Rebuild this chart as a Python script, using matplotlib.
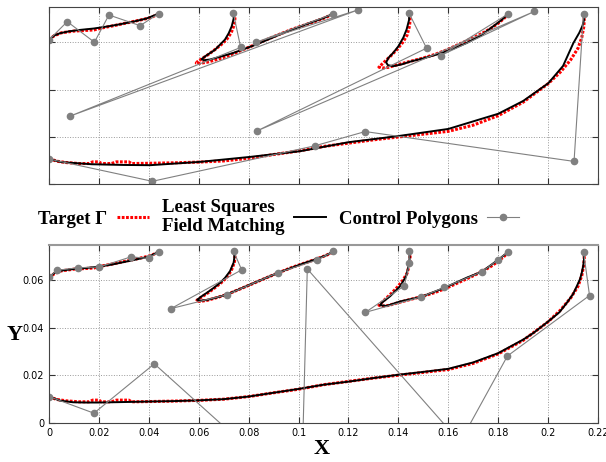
import numpy as np
import matplotlib.pyplot as plt
from matplotlib.lines import Line2D

# ---------------- data ----------------
# Target curves (same in both panels)
tA_x = [0, 0.002, 0.005, 0.010, 0.015, 0.018, 0.022, 0.026, 0.030, 0.034, 0.038, 0.041, 0.044]
tA_y = [0.0610, 0.0627, 0.0640, 0.0647, 0.0650, 0.0652, 0.0662, 0.0670, 0.0679, 0.0688, 0.0697, 0.0705, 0.0720]

tB_x = [0.0740, 0.0745, 0.0743, 0.0730, 0.0712, 0.0690, 0.0665, 0.0638, 0.0612, 0.0595, 0.0590, 0.0605,
        0.0635, 0.0672, 0.0712, 0.0760, 0.0810, 0.0865, 0.0920, 0.0975, 0.1025, 0.1075, 0.1110, 0.1140]
tB_y = [0.0722, 0.0700, 0.0676, 0.0640, 0.0612, 0.0590, 0.0569, 0.0548, 0.0530, 0.0518, 0.0512, 0.0511,
        0.0516, 0.0527, 0.0540, 0.0561, 0.0583, 0.0608, 0.0632, 0.0655, 0.0673, 0.0691, 0.0705, 0.0720]

tC_x = [0.1443, 0.1447, 0.1445, 0.1435, 0.1418, 0.1395, 0.1370, 0.1347, 0.1330, 0.1322, 0.1335, 0.1360,
        0.1400, 0.1450, 0.1495, 0.1545, 0.1590, 0.1640, 0.1690, 0.1735, 0.1770, 0.1800, 0.1825, 0.1841]
tC_y = [0.0722, 0.0700, 0.0670, 0.0630, 0.0600, 0.0570, 0.0543, 0.0520, 0.0503, 0.0495, 0.0491, 0.0494,
        0.0506, 0.0520, 0.0532, 0.0548, 0.0566, 0.0590, 0.0614, 0.0637, 0.0658, 0.0680, 0.0702, 0.0720]

tD_x = [0, 0.003, 0.007, 0.012, 0.016, 0.0175, 0.020, 0.021, 0.025, 0.027, 0.032, 0.033, 0.040, 0.050,
        0.060, 0.070, 0.080, 0.090, 0.100, 0.110, 0.120, 0.130, 0.140, 0.150, 0.160, 0.170, 0.180, 0.190,
        0.200, 0.205, 0.209, 0.212, 0.2135, 0.2143, 0.2145, 0.2142]
tD_y = [0.0110, 0.0098, 0.0092, 0.0088, 0.0088, 0.0095, 0.0095, 0.0088, 0.0088, 0.0095, 0.0095, 0.0088,
        0.0089, 0.0091, 0.0094, 0.0099, 0.0110, 0.0126, 0.0141, 0.0160, 0.0174, 0.0188, 0.0200, 0.0212,
        0.0224, 0.0250, 0.0290, 0.0347, 0.0425, 0.0475, 0.0525, 0.0575, 0.0620, 0.0665, 0.0695, 0.0720]

# Least squares fits (top panel)
lsA_x = [0, 0.002, 0.0044, 0.008, 0.0124, 0.018, 0.0231, 0.028, 0.0338, 0.039, 0.0438]
lsA_y = [0.0609, 0.0628, 0.0638, 0.0646, 0.0652, 0.0658, 0.0666, 0.0675, 0.0687, 0.0700, 0.0720]
lsB_x = [0.0739, 0.0740, 0.0732, 0.0720, 0.0705, 0.0665, 0.0625, 0.0612, 0.0620, 0.0645, 0.0690,
         0.0739, 0.0830, 0.0939, 0.1046, 0.1100, 0.1140]
lsB_y = [0.0721, 0.0700, 0.0667, 0.0638, 0.0611, 0.0568, 0.0540, 0.0529, 0.0524, 0.0527, 0.0540,
         0.0555, 0.0590, 0.0639, 0.0682, 0.0702, 0.0721]
lsC_x = [0.1443, 0.1443, 0.1433, 0.1420, 0.1400, 0.1380, 0.1360, 0.1351, 0.1358, 0.1380, 0.1415,
         0.1447, 0.1500, 0.1570, 0.1625, 0.1674, 0.1730, 0.1781, 0.1815, 0.1841]
lsC_y = [0.0721, 0.0695, 0.0654, 0.0620, 0.0583, 0.0556, 0.0534, 0.0515, 0.0503, 0.0499, 0.0507,
         0.0518, 0.0532, 0.0553, 0.0575, 0.0597, 0.0628, 0.0668, 0.0695, 0.0721]
lsD_x = [0, 0.005, 0.0171, 0.030, 0.0405, 0.0605, 0.0806, 0.1006, 0.120, 0.140, 0.160, 0.180, 0.190,
         0.2001, 0.2060, 0.2101, 0.2125, 0.2138, 0.2144, 0.2142]
lsD_y = [0.0107, 0.0094, 0.0085, 0.0082, 0.0081, 0.0095, 0.0116, 0.0140, 0.0178, 0.0204, 0.0234,
         0.0298, 0.0352, 0.0427, 0.0500, 0.0596, 0.0640, 0.0670, 0.0695, 0.0720]

# Field matching fits (bottom panel)
fmA_x = [0, 0.002, 0.005, 0.010, 0.015, 0.020, 0.025, 0.030, 0.035, 0.040, 0.044]
fmA_y = [0.0610, 0.0630, 0.0641, 0.0648, 0.0652, 0.0658, 0.0666, 0.0677, 0.0688, 0.0700, 0.0720]
fmB_x = [0.0740, 0.0743, 0.0740, 0.0725, 0.0705, 0.0685, 0.0660, 0.0632, 0.0608, 0.0594, 0.0605,
         0.0632, 0.0670, 0.0712, 0.0766, 0.0806, 0.0860, 0.0919, 0.0970, 0.1019, 0.1073, 0.1110, 0.1140]
fmB_y = [0.0722, 0.0700, 0.0675, 0.0638, 0.0610, 0.0589, 0.0568, 0.0547, 0.0530, 0.0518, 0.0514,
         0.0517, 0.0527, 0.0540, 0.0564, 0.0582, 0.0606, 0.0632, 0.0652, 0.0671, 0.0690, 0.0705, 0.0722]
fmC_x = [0.1443, 0.1445, 0.1444, 0.1431, 0.1407, 0.1367, 0.1333, 0.1327, 0.1353, 0.1407, 0.1491,
         0.1584, 0.1674, 0.1734, 0.1798, 0.1841]
fmC_y = [0.0722, 0.0700, 0.0674, 0.0617, 0.0575, 0.0533, 0.0505, 0.0495, 0.0492, 0.0511, 0.0530,
         0.0568, 0.0611, 0.0636, 0.0685, 0.0720]
fmD_x = [0, 0.0044, 0.0097, 0.015, 0.0198, 0.030, 0.0398, 0.050, 0.0598, 0.0699, 0.0799, 0.0899,
         0.0999, 0.110, 0.120, 0.130, 0.140, 0.150, 0.160, 0.170, 0.180, 0.190, 0.1941, 0.2001, 0.2045,
         0.2075, 0.2100, 0.2115, 0.2128, 0.2135, 0.2141, 0.2144, 0.2142]
fmD_y = [0.0110, 0.0093, 0.0086, 0.0085, 0.0085, 0.0087, 0.0089, 0.0091, 0.0094, 0.0099, 0.0110, 0.0126,
         0.0142, 0.0160, 0.0173, 0.0188, 0.0202, 0.0214, 0.0227, 0.0254, 0.0293, 0.0350, 0.0378, 0.0427,
         0.0465, 0.0505, 0.0542, 0.0575, 0.0605, 0.0632, 0.0662, 0.0690, 0.0721]

# Control polygons, least squares (top)
lscpA_x = [0, 0.0073, 0.0182, 0.0240, 0.0365, 0.0440]
lscpA_y = [0.0610, 0.0687, 0.0600, 0.0715, 0.0670, 0.0721]
lscpB_x = [0.0739, 0.0768, 0.0084, 0.1240, 0.0830, 0.1140]
lscpB_y = [0.0722, 0.0578, 0.0288, 0.0737, 0.0600, 0.0720]
lscpC_x = [0.1443, 0.1513, 0.0832, 0.1945, 0.1570, 0.1841]
lscpC_y = [0.0722, 0.0575, 0.0225, 0.0730, 0.0544, 0.0720]
lscpD_x = [0, 0.0414, 0.1066, 0.1267, 0.2104, 0.2142]
lscpD_y = [0.0107, 0.0013, 0.0163, 0.0223, 0.0097, 0.0720]

# Control polygons, field matching (bottom)
fmcpA_x = [0, 0.0030, 0.0117, 0.0201, 0.0329, 0.0399, 0.0439]
fmcpA_y = [0.0612, 0.0642, 0.0653, 0.0656, 0.0699, 0.0692, 0.0721]
fmcpB_x = [0.0740, 0.0772, 0.0489, 0.0712, 0.0917, 0.1073, 0.1140]
fmcpB_y = [0.0722, 0.0644, 0.0481, 0.0539, 0.0632, 0.0685, 0.0722]
fmcpC_x = [0.1443, 0.1444, 0.1424, 0.1268, 0.1491, 0.1584, 0.1734, 0.1798, 0.1841]
fmcpC_y = [0.0722, 0.0671, 0.0577, 0.0465, 0.0530, 0.0570, 0.0636, 0.0685, 0.0721]
fmcpD_x = [0, 0.0180, 0.0422, 0.1011, 0.1035, 0.1647, 0.1837, 0.2166, 0.2142]
fmcpD_y = [0.0110, 0.0040, 0.0248, -0.0310, 0.0648, -0.0082, 0.0281, 0.0536, 0.0721]

targets = [(tA_x, tA_y), (tB_x, tB_y), (tC_x, tC_y), (tD_x, tD_y)]
ls_fits = [(lsA_x, lsA_y), (lsB_x, lsB_y), (lsC_x, lsC_y), (lsD_x, lsD_y)]
fm_fits = [(fmA_x, fmA_y), (fmB_x, fmB_y), (fmC_x, fmC_y), (fmD_x, fmD_y)]
ls_cps = [(lscpA_x, lscpA_y), (lscpB_x, lscpB_y), (lscpC_x, lscpC_y), (lscpD_x, lscpD_y)]
fm_cps = [(fmcpA_x, fmcpA_y), (fmcpB_x, fmcpB_y), (fmcpC_x, fmcpC_y), (fmcpD_x, fmcpD_y)]

# ---------------- figure ----------------
fig = plt.figure(figsize=(6.06, 4.62), dpi=100)
ax1 = fig.add_axes([0.0809, 0.6009, 0.9059, 0.3846])
ax2 = fig.add_axes([0.0809, 0.0851, 0.9059, 0.3852])

target_style = dict(color='red', lw=2.2, ls=(0, (0.9, 0.5)))
fit_style = dict(color='black', lw=1.4)
cp_style = dict(color='gray', lw=0.8, marker='o', ms=4.5, mfc='gray', mec='gray')

for ax, fits, cps in [(ax1, ls_fits, ls_cps), (ax2, fm_fits, fm_cps)]:
    for (tx, ty), (fx, fy), (cx, cy) in zip(targets, fits, cps):
        ax.plot(tx, ty, **target_style)
        ax.plot(fx, fy, **fit_style)
        ax.plot(cx, cy, **cp_style)
    ax.set_xlim(0, 0.22)
    ax.set_ylim(0, 0.075)
    ax.set_xticks(np.arange(0, 0.221, 0.02))
    ax.set_yticks([0, 0.02, 0.04, 0.06])
    ax.grid(True, color='#999999', ls=':', lw=0.7)
    ax.tick_params(direction='in', top=True, right=True, length=4, labelsize=7, color='#333333')
    for s in ax.spines.values():
        s.set_color('#444444')

ax1.set_xticklabels([])
ax1.set_yticklabels([])
ax2.set_xticklabels(['0', '0.02', '0.04', '0.06', '0.08', '0.1', '0.12', '0.14', '0.16', '0.18', '0.2', '0.22'])
ax2.set_yticklabels(['0', '0.02', '0.04', '0.06'])
ax2.spines['top'].set_color('#999999')
ax2.spines['top'].set_linewidth(1.5)

ax2.set_xlabel('X', fontsize=16, fontweight='bold', family='Liberation Serif', va='center')
ax2.set_ylabel('Y', fontsize=16, fontweight='bold', family='Liberation Serif', rotation=0,
               va='center', ha='center')
ax2.xaxis.set_label_coords(0.497, -0.15)
ax2.yaxis.set_label_coords(-0.063, 0.49)

# Legend between panels
h1 = Line2D([], [], **target_style)
h2 = Line2D([], [], **fit_style)
h3 = Line2D([], [], **cp_style)
fig.legend([h1, h2, h3], ['Target Γ', 'Least Squares\nField Matching', 'Control Polygons'],
           loc='center', bbox_to_anchor=(0.46, 0.530), ncol=3, frameon=False, markerfirst=False,
           prop={'family': 'Liberation Serif', 'weight': 'bold', 'size': 13.5},
           handlelength=1.7, columnspacing=0.7, handletextpad=0.5, labelspacing=0.25)

plt.savefig('out.png', dpi=100)
